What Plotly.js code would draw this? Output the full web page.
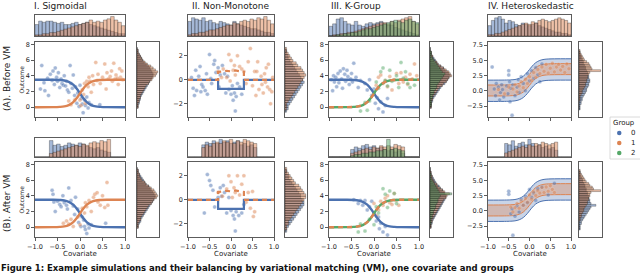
<!DOCTYPE html>
<html><head><meta charset="utf-8">
<script src="https://cdn.plot.ly/plotly-3.0.1.min.js"></script>
<style>html,body{margin:0;padding:0;background:#fff;}#chart{width:640px;height:274px;}</style>
</head><body><div id="chart"></div>
<script>
// ---------------- DATA ----------------
const colTitles = ['I. Sigmoidal','II. Non-Monotone','III. K-Group','IV. Heteroskedastic'];
const rowTitles = ['(A). Before VM','(B). After VM'];
const groups = ['0','1','2'];
const xTickVals = [-1,-0.5,0,0.5,1];

// Histogram bin centres
const covBins = [-0.96,-0.88,-0.80,-0.72,-0.64,-0.56,-0.48,-0.40,-0.32,-0.24,-0.16,-0.08,0.00,0.08,0.16,0.24,0.32,0.40,0.48,0.56,0.64,0.72,0.80,0.88,0.96];
const outBinsI = [0,0.25,0.5,0.75,1,1.25,1.5,1.75,2,2.25,2.5,2.75,3,3.25,3.5,3.75,4,4.25,4.5,4.75,5,5.25,5.5,5.75,6,6.25,6.5,6.75,7,7.25,7.5];
const outBinsII = [-2.6,-2.4,-2.2,-2.0,-1.8,-1.6,-1.4,-1.2,-1.0,-0.8,-0.6,-0.4,-0.2,0,0.2,0.4,0.6,0.8,1.0,1.2,1.4,1.6,1.8,2.0,2.2,2.4,2.6];
const outBinsIV = [-3,-2.7,-2.4,-2.1,-1.8,-1.5,-1.2,-0.9,-0.6,-0.3,0,0.3,0.6,0.9,1.2,1.5,1.8,2.1,2.4,2.7,3.0,3.3,3.6,3.9,4.2,4.5,4.8,5.1,5.4,5.7,6.0,6.3,6.6];

// Fitted curves
const curveX  = [-1,-0.6,-0.45,-0.35,-0.25,-0.15,-0.05,0.05,0.15,0.25,0.35,0.45,0.6,1];
const sigDown = [3.5,3.49,3.46,3.40,3.23,2.86,2.18,1.32,0.64,0.27,0.10,0.04,0.01,0];
const sigUp   = [0,0.01,0.04,0.10,0.27,0.64,1.32,2.18,2.86,3.23,3.40,3.46,3.49,3.5];
const stepX0 = [-1,-0.3,-0.3,0.3,0.3,1];
const stepY0 = [0,0,-0.75,-0.75,0,0];
const stepX1 = [-1,-0.3,-0.3,-0.2,-0.1,0,0.1,0.2,0.3,0.3,1];
const stepY1 = [0,0,0.65,0.72,0.75,0.7,0.78,0.72,0.65,0,0];
const bandLo0 = [-1.75,-1.74,-1.71,-1.65,-1.48,-1.11,-0.43,0.43,1.11,1.48,1.65,1.71,1.74,1.75];
const bandHi0 = [1.75,1.76,1.79,1.85,2.02,2.39,3.07,3.93,4.61,4.98,5.15,5.21,5.24,5.25];
const bandLo1 = [-0.85,-0.84,-0.81,-0.75,-0.58,-0.21,0.47,1.33,2.01,2.38,2.55,2.61,2.64,2.65];
const bandHi1 = [0.95,0.96,0.99,1.05,1.22,1.59,2.27,3.13,3.81,4.18,4.35,4.41,4.44,4.45];

// Panel I
const p1A_x0 = [-0.88,-0.85,-0.8,-0.78,-0.72,-0.7,-0.66,-0.62,-0.6,-0.57,-0.55,-0.52,-0.5,-0.48,-0.45,-0.42,-0.4,-0.37,-0.35,-0.32,-0.3,-0.28,-0.25,-0.22,-0.2,-0.17,-0.15,-0.12,-0.1,-0.07,-0.05,-0.02,0.0,0.03,0.05,0.07,0.1,0.12,0.15,0.18,0.2,0.25,0.44];
const p1A_y0 = [2.3,5.3,3.1,2.1,3.7,1.5,4.2,3.4,4.6,2.9,5.0,3.8,3.3,4.4,2.5,3.6,3.0,2.8,4.0,2.7,3.3,2.2,1.9,5.3,3.0,2.4,4.1,1.5,2.6,0.5,1.8,0.1,2.8,1.1,0.4,-0.7,0.9,0.2,1.3,-0.1,0.6,0.3,0.3];
const p1A_x1 = [-0.25,-0.2,-0.12,0.0,0.02,0.05,0.08,0.1,0.12,0.15,0.18,0.2,0.22,0.25,0.28,0.3,0.35,0.38,0.4,0.45,0.5,0.55,0.58,0.6,0.63,0.67,0.7,0.72,0.75,0.78,0.8,0.83,0.85,0.88,0.9,0.93,0.95];
const p1A_y1 = [0.8,0.3,0.9,0.9,0.2,2.2,1.6,3.0,0.5,3.3,2.6,3.8,3.3,1.9,4.0,2.9,5.7,3.4,4.2,3.0,3.8,5.5,2.3,4.4,3.6,3.9,4.6,3.3,5.6,3.6,4.1,3.7,2.9,4.9,3.8,4.6,3.5];
const p1B_x0 = [-0.62,-0.6,-0.58,-0.55,-0.5,-0.45,-0.42,-0.38,-0.35,-0.3,-0.28,-0.25,-0.2,-0.15,-0.12,-0.1,-0.05,-0.03,0.0,0.02,0.05,0.08,0.1,0.12,0.15,0.18,0.2,0.25,0.57];
const p1B_y0 = [4.7,4.2,3.2,2.0,3.3,2.9,2.6,4.0,3.1,2.8,2.3,5.0,3.4,2.7,1.6,3.8,2.3,0.6,1.5,0.1,1.3,0.9,0.1,-0.3,-0.8,0.4,-0.1,0.3,0.5];
const p1B_x1 = [-0.37,-0.3,-0.25,-0.2,-0.15,-0.05,0.0,0.05,0.1,0.12,0.15,0.2,0.25,0.3,0.33,0.38,0.4,0.45,0.5,0.55,0.6,0.62];
const p1B_y1 = [0.5,0.8,0.4,1.0,0.1,1.3,0.3,2.4,1.8,3.1,2.6,3.4,2.0,3.8,4.2,4.4,3.2,2.8,4.0,2.5,5.7,2.8];
const h1A_0 = [10,13,12,13,13,12,11,12,10,10,11,12,10,11,12,10,9,8,7,6,5,4,3,2,2];
const h1A_1 = [1,1,2,2,3,3,4,5,6,7,8,9,10,11,12,14,12,13,12,14,15,17,14,12,9];
const h1B_0 = [0,0,0,0,14,10,11,9,10,12,11,10,12,11,9,8,7,8,6,5,4,0,0,0,0];
const h1B_1 = [0,0,0,0,3,4,5,6,7,8,9,10,9,11,10,12,13,12,14,13,15,0,0,0,0];
const s1A_0 = [1,1,2,2,3,3,4,5,6,7,8,9,10,11,12,13,14,14,13,12,11,10,8,6,5,4,3,2,1,1,0];
const s1A_1 = [1,1,1,2,2,3,3,4,5,6,7,8,10,11,13,14,16,17,18,16,14,12,9,7,5,4,3,2,1,1,0];
const s1B_0 = [1,1,2,3,3,4,5,6,7,8,9,10,11,12,13,14,14,13,12,11,10,9,7,6,5,4,3,2,1,1,0];
const s1B_1 = [1,1,1,2,3,3,4,5,6,7,8,9,11,12,13,15,16,15,14,13,11,9,7,6,4,3,2,2,1,1,0];

// Panel II
const p2A_x0 = [-0.92,-0.88,-0.85,-0.82,-0.8,-0.75,-0.72,-0.7,-0.68,-0.65,-0.6,-0.57,-0.55,-0.5,-0.47,-0.45,-0.4,-0.38,-0.35,-0.3,-0.28,-0.25,-0.2,-0.15,-0.12,-0.08,-0.05,0.0,0.03,0.05,0.08,0.1,0.12,0.15,0.2,0.25];
const p2A_y0 = [0.2,-0.7,-1.3,0.8,-0.9,0.3,1.1,-1.0,-0.4,-0.6,-0.9,0.5,-1.2,2.1,0.1,-0.3,1.3,1.6,0.6,1.0,-0.6,0.4,1.2,0.5,-1.1,0.3,-0.8,-1.2,-0.5,-1.7,-1.1,-2.6,-1.4,-0.3,-0.6,-1.2];
const p2A_x1 = [-0.3,-0.22,-0.18,-0.1,-0.05,-0.02,0.0,0.05,0.08,0.1,0.15,0.2,0.25,0.3,0.35,0.4,0.45,0.5,0.55,0.58,0.6,0.62,0.65,0.7,0.72,0.75,0.78,0.8,0.82,0.85,0.87,0.9,0.92,0.95,0.97];
const p2A_y1 = [0.7,0.2,0.9,0.2,2.1,-0.1,1.6,0.8,1.2,0.4,2.0,1.1,0.9,0.7,-0.3,1.5,2.6,-0.5,0.7,-1.3,0.7,1.5,-0.8,0.3,-0.4,-1.1,0.5,-0.2,1.0,-0.6,1.3,-0.8,-2.0,-1.0,0.2];
const p2B_x0 = [-0.62,-0.55,-0.5,-0.47,-0.42,-0.38,-0.3,-0.25,-0.22,-0.18,-0.15,-0.1,-0.05,0.0,0.05,0.08,0.1,0.12,0.18,0.25,0.3];
const p2B_y0 = [-1.1,2.1,1.6,1.2,0.8,-0.6,0.2,1.0,0.3,1.2,0.6,-1.1,0.2,-0.9,-1.3,-1.6,-2.6,-1.0,-1.3,-1.1,-0.4];
const p2B_x1 = [-0.3,-0.2,-0.1,-0.05,0.0,0.03,0.07,0.1,0.15,0.2,0.25,0.3,0.35,0.4,0.45,0.5,0.52,0.55];
const p2B_y1 = [0.6,0.3,0.9,2.0,1.5,0.2,1.0,0.6,2.0,0.4,1.3,2.0,-0.2,0.6,-0.7,0.7,-1.4,-1.0];
const h2A_0 = [12,15,14,13,15,12,13,11,10,12,11,10,9,12,10,9,8,7,6,6,5,4,3,3,2];
const h2A_1 = [1,2,2,3,3,4,5,5,6,7,8,9,9,11,10,12,13,12,14,13,15,14,16,13,10];
const h2B_0 = [0,0,0,0,9,11,10,12,10,13,11,12,10,11,12,9,10,8,9,7,0,0,0,0,0];
const h2B_1 = [0,0,0,0,7,9,8,10,11,10,12,11,13,10,12,11,13,12,11,10,0,0,0,0,0];
const s2A_0 = [1,2,2,3,4,5,6,7,8,9,10,11,12,11,10,9,8,7,6,5,4,3,2,2,1,1,0];
const s2A_1 = [0,1,1,1,2,3,4,5,6,7,8,9,10,11,12,13,12,11,10,8,7,5,4,3,2,1,1];
const s2B_0 = [1,1,2,3,4,5,6,7,8,9,10,11,11,10,9,9,8,7,6,5,4,3,2,2,1,1,0];
const s2B_1 = [0,1,1,2,2,3,4,5,6,7,8,9,10,11,12,12,11,10,9,8,6,5,4,3,2,1,1];

// Panel III
const p3A_x0 = [-0.95,-0.92,-0.9,-0.88,-0.85,-0.83,-0.8,-0.78,-0.75,-0.72,-0.7,-0.68,-0.65,-0.63,-0.6,-0.58,-0.55,-0.52,-0.5,-0.48,-0.45,-0.4,-0.35,-0.3,-0.2,-0.15,-0.1,-0.05,0.0,0.03,0.07,0.1,0.15,0.2,0.25,0.3];
const p3A_y0 = [3.5,2.1,4.0,3.2,3.8,2.6,4.3,3.1,4.6,3.6,2.4,4.9,4.2,3.3,4.7,3.9,2.9,3.6,4.3,3.2,5.6,3.8,2.5,3.4,3.0,2.2,3.5,1.5,2.3,0.5,1.2,-0.2,0.7,-0.6,0.2,1.1];
const p3A_x1 = [0.05,0.1,0.15,0.2,0.25,0.3,0.35,0.4,0.45,0.5,0.55,0.6,0.65,0.7,0.75,0.8,0.85,0.9,0.95];
const p3A_y1 = [2.8,3.8,4.1,3.0,3.4,2.6,3.9,2.2,3.5,4.3,3.0,4.4,3.2,3.8,2.9,4.2,3.6,5.5,4.0];
const p3A_x2 = [-0.3,-0.2,-0.15,-0.1,0.0,0.05,0.1,0.15,0.2,0.25,0.3,0.35,0.4,0.5,0.55,0.6,0.65,0.7,0.75,0.8,0.9];
const p3A_y2 = [-0.5,0.6,-0.4,0.8,1.9,3.2,2.4,4.5,5.0,3.4,2.7,4.7,3.3,4.0,2.5,5.7,3.7,4.5,3.0,2.5,2.8];
const p3B_x0 = [-0.45,-0.35,-0.3,-0.25,-0.2,-0.15,-0.1,-0.05,0.0,0.05,0.1,0.12,0.15,0.2,0.25,0.3];
const p3B_y0 = [3.5,3.0,3.4,2.8,3.4,2.2,2.6,3.3,1.8,0.8,1.3,-0.2,0.5,-0.6,0.1,-1.0];
const p3B_x1 = [0.0,0.05,0.1,0.15,0.2,0.25,0.3,0.35,0.4,0.45,0.5,0.55];
const p3B_y1 = [3.0,1.5,2.2,3.3,2.8,3.7,4.0,3.1,2.9,4.3,3.4,2.8];
const p3B_x2 = [-0.35,-0.3,-0.2,-0.1,0.0,0.05,0.1,0.2,0.25,0.3,0.35,0.45,0.5];
const p3B_y2 = [-0.6,0.4,-0.5,1.0,0.3,2.6,1.8,4.9,4.2,2.5,4.6,4.3,3.0];
const h3A_0 = [8,10,14,15,12,10,9,12,9,8,10,11,10,11,12,10,9,9,7,6,5,4,3,2,1];
const h3A_1 = [0,1,1,2,2,3,3,4,5,6,7,8,9,10,11,11,10,12,11,13,14,15,16,12,10];
const h3A_2 = [0,0,1,1,2,2,3,3,4,5,6,6,7,8,9,10,11,12,13,12,11,13,14,12,11];
const h3B_0 = [0,0,0,0,0,0,6,8,7,9,10,8,9,7,8,6,5,6,4,5,3,0,0,0,0];
const h3B_1 = [0,0,0,0,0,0,3,4,5,6,7,6,8,7,9,8,9,8,10,9,8,0,0,0,0];
const h3B_2 = [0,0,0,0,0,0,1,2,2,3,3,4,4,5,5,6,14,6,7,6,5,0,0,0,0];
const s3A_0 = [1,1,1,2,2,3,4,5,6,7,8,9,11,12,13,14,15,14,13,11,10,8,6,5,4,3,2,1,1,0,0];
const s3A_1 = [1,1,1,1,2,2,3,4,5,6,7,9,10,12,13,14,16,15,14,12,10,8,6,5,3,2,2,1,1,0,0];
const s3A_2 = [0,1,1,1,1,2,2,3,3,4,5,5,6,7,8,9,10,11,9,8,7,6,5,4,3,2,1,1,1,0,0];
const s3B_0 = [1,1,2,2,3,4,5,6,7,8,9,10,11,12,13,14,14,13,12,11,9,8,6,5,4,3,2,1,1,0,0];
const s3B_1 = [1,1,1,2,2,3,4,5,6,7,8,9,10,11,12,14,15,17,13,11,9,7,6,4,3,2,2,1,1,0,0];
const s3B_2 = [0,0,1,1,1,2,2,3,3,4,5,5,6,7,7,8,9,19,8,7,6,5,4,3,2,1,1,1,0,0,0];

// Panel IV
const p4A_x0 = [-0.9,-0.85,-0.82,-0.8,-0.75,-0.72,-0.7,-0.67,-0.65,-0.62,-0.5,-0.5,-0.55,-0.52,-0.48,-0.47,-0.45,-0.42,-0.4,-0.35,-0.3,-0.27,-0.25,-0.2,-0.15,-0.1,-0.05,0.0,0.05,0.1,0.15,0.2,0.25,0.3];
const p4A_y0 = [3.9,0.3,-0.8,1.2,0.6,-1.5,-0.3,1.0,0.2,-1.0,3.3,2.6,0.8,-0.5,1.5,-1.8,0.4,-4.0,1.0,-0.8,0.6,1.8,-0.3,2.3,1.2,0.0,2.8,1.6,3.3,2.0,3.8,2.6,1.5,4.4];
const p4A_x1 = [-0.75,-0.6,-0.5,-0.4,-0.35,-0.3,-0.25,-0.2,-0.15,-0.1,-0.05,0.0,0.05,0.1,0.15,0.2,0.25,0.3,0.35,0.4,0.45,0.5,0.55,0.6,0.65,0.7,0.75,0.8,0.85,0.9,0.95];
const p4A_y1 = [0.2,-0.5,0.6,0.3,1.0,-0.2,0.8,1.5,0.5,1.9,1.2,2.3,1.7,3.0,2.2,3.5,2.8,3.9,3.2,4.3,2.9,3.7,4.5,3.1,3.9,4.3,3.4,4.0,3.0,4.4,3.6];
const p4B_x0 = [-0.5,-0.5,-0.45,-0.42,-0.4,-0.35,-0.3,-0.25,-0.2,-0.15,-0.1,-0.05,0.0,0.05,0.1,0.15,0.2,0.3,0.45,0.6];
const p4B_y0 = [3.2,2.7,-0.5,0.3,-4.0,-0.9,0.8,-0.2,1.9,0.9,2.4,1.3,3.5,2.2,2.9,1.7,3.6,3.9,2.6,4.5];
const p4B_x1 = [-0.45,-0.4,-0.35,-0.3,-0.25,-0.2,-0.15,-0.1,-0.05,0.0,0.05,0.1,0.15,0.2,0.25,0.3,0.35,0.4,0.45,0.5,0.55,0.6];
const p4B_y1 = [0.6,-0.2,0.5,1.2,0.4,1.6,0.9,2.0,1.4,2.6,1.9,3.1,2.5,3.3,2.9,3.8,3.0,3.9,3.2,4.1,3.5,3.0];
const h4A_0 = [8,12,14,15,13,10,12,11,9,8,10,9,8,9,10,8,7,6,5,4,3,3,2,2,1];
const h4A_1 = [1,1,2,2,3,4,5,6,7,8,9,10,9,11,10,12,13,12,11,12,13,14,13,12,10];
const h4B_0 = [0,0,0,0,0,10,9,12,8,10,11,9,13,10,8,9,7,8,6,7,5,0,0,0,0];
const h4B_1 = [0,0,0,0,0,3,4,5,6,7,8,7,9,8,10,9,11,10,9,10,11,0,0,0,0];
const s4A_0 = [1,1,1,2,2,3,3,4,5,6,7,7,8,9,9,10,10,9,9,8,8,7,6,6,5,4,4,3,2,2,1,1,0];
const s4A_1 = [0,0,0,0,0,1,1,1,2,3,3,4,5,6,6,7,7,8,8,9,10,20,12,11,10,9,7,5,4,3,2,1,1];
const s4B_0 = [1,1,1,2,2,3,4,5,6,7,8,9,10,14,10,9,9,8,8,7,7,6,6,5,5,4,3,3,2,1,1,1,0];
const s4B_1 = [0,0,0,0,0,1,1,2,2,3,4,4,5,6,7,7,8,8,9,9,10,18,12,11,9,8,6,5,4,3,2,1,1];

// ---------------- STYLE / LAYOUT ----------------
const COL = ['#4C72B0','#DD8452','#55A868'];
const FILL = ['rgba(76,114,176,0.5)','rgba(221,132,82,0.5)','rgba(85,168,104,0.5)'];
const FONT = 'DejaVu Sans';
const W = 640, H = 274;
const fx = p => p / W, fy = p => 1 - p / H;
const colPx = [{m:[35,125],s:[137,159]},{m:[188,274],s:[285,307]},{m:[329,419],s:[430,453]},{m:[488,571],s:[579,602]}];
const rowPx = [{t:[15,36],m:[42,117]},{t:[138,157],m:[162,237]}];
const yRanges = [[-1.25,8.3],[-3.1,3.15],[-1.25,8.3],[-4.3,8.0]];
const yTicks = [[0,2,4,6,8],[-2,0,2],[0,2,4,6,8],[-2.5,0,2.5,5,7.5]];
const yFmt = ['','','','.1f'];
const sideBins = [outBinsI,outBinsII,outBinsI,outBinsIV];
const sideW = [0.25,0.2,0.25,0.3];

const panels = [
  [ {sx:[p1A_x0,p1A_x1], sy:[p1A_y0,p1A_y1], top:[h1A_0,h1A_1], side:[s1A_0,s1A_1]},
    {sx:[p1B_x0,p1B_x1], sy:[p1B_y0,p1B_y1], top:[h1B_0,h1B_1], side:[s1B_0,s1B_1]} ],
  [ {sx:[p2A_x0,p2A_x1], sy:[p2A_y0,p2A_y1], top:[h2A_0,h2A_1], side:[s2A_0,s2A_1]},
    {sx:[p2B_x0,p2B_x1], sy:[p2B_y0,p2B_y1], top:[h2B_0,h2B_1], side:[s2B_0,s2B_1]} ],
  [ {sx:[p3A_x0,p3A_x1,p3A_x2], sy:[p3A_y0,p3A_y1,p3A_y2], top:[h3A_0,h3A_1,h3A_2], side:[s3A_0,s3A_1,s3A_2]},
    {sx:[p3B_x0,p3B_x1,p3B_x2], sy:[p3B_y0,p3B_y1,p3B_y2], top:[h3B_0,h3B_1,h3B_2], side:[s3B_0,s3B_1,s3B_2]} ],
  [ {sx:[p4A_x0,p4A_x1], sy:[p4A_y0,p4A_y1], top:[h4A_0,h4A_1], side:[s4A_0,s4A_1]},
    {sx:[p4B_x0,p4B_x1], sy:[p4B_y0,p4B_y1], top:[h4B_0,h4B_1], side:[s4B_0,s4B_1]} ]
];

const traces = [];
const layout = {
  width: W, height: H, margin:{l:0,r:0,t:0,b:0},
  paper_bgcolor:'#fff', plot_bgcolor:'#fff',
  showlegend:false, barmode:'overlay',
  font:{family:FONT, size:7, color:'#222'},
  annotations:[], shapes:[]
};

function baseAxis(domain, anchor, range) {
  return {domain, anchor, range, showgrid:false, zeroline:false, showline:true, mirror:true,
          linecolor:'#333', linewidth:0.8, ticks:'', showticklabels:false, fixedrange:true};
}
const tickStyle = {ticks:'outside', ticklen:3, tickwidth:0.8, tickcolor:'#333',
                   tickfont:{family:FONT, size:6.5, color:'#222'}};

for (let c = 0; c < 4; c++) {
  for (let r = 0; r < 2; r++) {
    const base = r*12 + c*3;
    const idM = base+1, idT = base+2, idS = base+3;
    const nm = i => (i === 1 ? '' : String(i));
    const P = panels[c][r];
    const xm = [fx(colPx[c].m[0]), fx(colPx[c].m[1])];
    const xs = [fx(colPx[c].s[0]), fx(colPx[c].s[1])];
    const ym = [fy(rowPx[r].m[1]), fy(rowPx[r].m[0])];
    const yt = [fy(rowPx[r].t[1]), fy(rowPx[r].t[0])];

    layout['xaxis'+nm(idM)] = Object.assign(baseAxis(xm, 'y'+nm(idM), [-1,1]), tickStyle,
      {tickvals:xTickVals, showticklabels: r===1, tickformat:'.1f'});
    layout['yaxis'+nm(idM)] = Object.assign(baseAxis(ym, 'x'+nm(idM), yRanges[c]), tickStyle,
      {tickvals:yTicks[c], showticklabels:true, tickformat:yFmt[c]});
    let tmax = 0; P.top.forEach(a => a.forEach(v => { if (v > tmax) tmax = v; }));
    layout['xaxis'+nm(idT)] = baseAxis(xm, 'y'+nm(idT), [-1,1]);
    layout['yaxis'+nm(idT)] = baseAxis(yt, 'x'+nm(idT), [0, tmax*1.08]);
    let smax = 0; P.side.forEach(a => a.forEach(v => { if (v > smax) smax = v; }));
    layout['xaxis'+nm(idS)] = baseAxis(xs, 'y'+nm(idS), [0, smax*1.06]);
    layout['yaxis'+nm(idS)] = baseAxis(ym, 'x'+nm(idS), yRanges[c]);

    P.top.forEach((cnt, g) => traces.push({type:'bar', x:covBins, y:cnt, width:0.08,
      xaxis:'x'+nm(idT), yaxis:'y'+nm(idT), marker:{color:FILL[g], line:{color:'rgba(30,30,30,0.8)', width:0.4}},
      hoverinfo:'skip'}));
    P.side.forEach((cnt, g) => traces.push({type:'bar', orientation:'h', y:sideBins[c], x:cnt, width:sideW[c],
      xaxis:'x'+nm(idS), yaxis:'y'+nm(idS), marker:{color:FILL[g], line:{color:'rgba(30,30,30,0.8)', width:0.4}},
      hoverinfo:'skip'}));

    const xa = 'x'+nm(idM), ya = 'y'+nm(idM);
    if (c === 3) {
      traces.push({type:'scatter', mode:'lines', x:curveX, y:bandLo0, xaxis:xa, yaxis:ya, line:{color:COL[0], width:1, shape:'spline'}});
      traces.push({type:'scatter', mode:'lines', x:curveX, y:bandHi0, xaxis:xa, yaxis:ya, line:{color:COL[0], width:1, shape:'spline'},
        fill:'tonexty', fillcolor:'rgba(76,114,176,0.3)'});
      traces.push({type:'scatter', mode:'lines', x:curveX, y:bandLo1, xaxis:xa, yaxis:ya, line:{color:COL[1], width:1, shape:'spline'}});
      traces.push({type:'scatter', mode:'lines', x:curveX, y:bandHi1, xaxis:xa, yaxis:ya, line:{color:COL[1], width:1, shape:'spline'},
        fill:'tonexty', fillcolor:'rgba(221,132,82,0.35)'});
    }
    P.sx.forEach((xx, g) => traces.push({type:'scatter', mode:'markers', x:xx, y:P.sy[g], xaxis:xa, yaxis:ya,
      marker:{size:4, color:COL[g], opacity:0.5, line:{width:0.3, color:'#fff'}}, hoverinfo:'skip'}));
    if (c === 0) {
      traces.push({type:'scatter', mode:'lines', x:curveX, y:sigDown, xaxis:xa, yaxis:ya, line:{color:COL[0], width:2.4, shape:'spline'}});
      traces.push({type:'scatter', mode:'lines', x:curveX, y:sigUp, xaxis:xa, yaxis:ya, line:{color:COL[1], width:2.4, shape:'spline'}});
    } else if (c === 1) {
      traces.push({type:'scatter', mode:'lines', x:stepX0, y:stepY0, xaxis:xa, yaxis:ya, line:{color:COL[0], width:2.2}});
      traces.push({type:'scatter', mode:'lines', x:stepX1, y:stepY1, xaxis:xa, yaxis:ya, line:{color:COL[1], width:2.2, dash:'5px,4px'}});
    } else if (c === 2) {
      traces.push({type:'scatter', mode:'lines', x:curveX, y:sigDown, xaxis:xa, yaxis:ya, line:{color:COL[0], width:2.4, shape:'spline'}});
      traces.push({type:'scatter', mode:'lines', x:curveX, y:sigUp, xaxis:xa, yaxis:ya, line:{color:COL[2], width:2.4, shape:'spline'}});
      traces.push({type:'scatter', mode:'lines', x:curveX, y:sigUp, xaxis:xa, yaxis:ya, line:{color:COL[1], width:2.4, shape:'spline', dash:'5px,4px'}});
    }
  }
}

// ---------------- TEXT ----------------
const ann = layout.annotations;
const titleLeft = [32, 190, 329, 486];
colTitles.forEach((t, c) => ann.push({text:t, xref:'paper', yref:'paper', x:fx(titleLeft[c]), y:fy(6),
  xanchor:'left', yanchor:'middle', showarrow:false, font:{family:FONT, size:9, color:'#222'}}));
rowTitles.forEach((t, r) => ann.push({text:t, xref:'paper', yref:'paper', x:fx(7), y:fy(r===0?79:204),
  xanchor:'center', yanchor:'middle', textangle:-90, showarrow:false, font:{family:FONT, size:9, color:'#222'}}));
[79.5, 199.5].forEach(py => ann.push({text:'Outcome', xref:'paper', yref:'paper', x:fx(21), y:fy(py),
  xanchor:'center', yanchor:'middle', textangle:-90, showarrow:false, font:{family:FONT, size:6, color:'#222'}}));
colPx.forEach(cp => ann.push({text:'Covariate', xref:'paper', yref:'paper', x:fx((cp.m[0]+cp.m[1])/2), y:fy(254),
  xanchor:'center', yanchor:'middle', showarrow:false, font:{family:FONT, size:7, color:'#222'}}));
ann.push({text:'<b>Figure 1: Example simulations and their balancing by variational matching (VM), one covariate and groups</b>',
  xref:'paper', yref:'paper', x:0, y:0, xanchor:'left', yanchor:'bottom', showarrow:false, borderpad:0,
  font:{family:FONT, size:8.5, color:'#111'}});

// legend (drawn as decoration)
layout.shapes.push({type:'rect', xref:'paper', yref:'paper', x0:fx(610), x1:fx(650), y0:fy(159), y1:fy(117),
  line:{color:'#d0d0d0', width:0.8}, fillcolor:'rgba(255,255,255,0.9)'});
ann.push({text:'Group', xref:'paper', yref:'paper', x:fx(624), y:fy(123), xanchor:'center', yanchor:'middle',
  showarrow:false, font:{family:FONT, size:7, color:'#222'}});
groups.forEach((g, i) => {
  const cy = 133 + i*10;
  layout.shapes.push({type:'circle', xref:'paper', yref:'paper', x0:fx(617), x1:fx(621.5), y0:fy(cy+2.25), y1:fy(cy-2.25),
    line:{width:0}, fillcolor:COL[i]});
  ann.push({text:g, xref:'paper', yref:'paper', x:fx(633), y:fy(cy), xanchor:'center', yanchor:'middle',
    showarrow:false, font:{family:FONT, size:7, color:'#222'}});
});

Plotly.newPlot('chart', traces, layout, {staticPlot:true, displayModeBar:false});
</script></body></html>
